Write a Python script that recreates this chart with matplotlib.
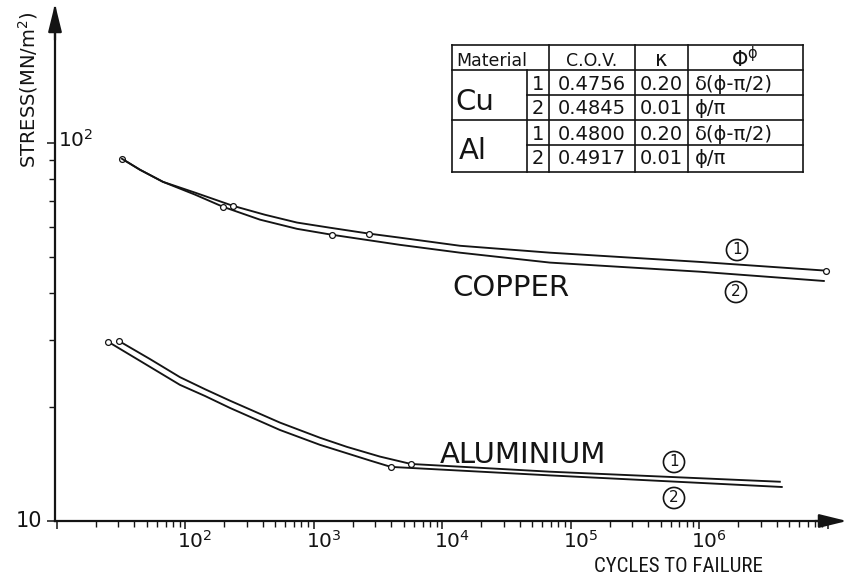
import matplotlib
matplotlib.use("Agg")
import matplotlib.pyplot as plt
from matplotlib import font_manager
from matplotlib.lines import Line2D
from matplotlib.patches import FancyArrowPatch
from matplotlib.ticker import FixedLocator, NullFormatter, LogLocator

# ---- data: S-N curves (cycles to failure, stress in MN/m^2) ----
cu1_cycles = [32.0, 44.3, 66.8, 118.6, 234, 415, 738, 1332, 2680, 4670, 13700, 68700, 1.01e6, 9.64e6]
cu1_stress = [90.7, 84.8, 78.8, 73.8, 68.1, 64.5, 61.5, 59.6, 57.5, 56.1, 53.4, 51.2, 48.4, 45.9]
cu1_marks = [0, 4, 8, 13]

cu2_cycles = [32.0, 44.3, 66.8, 118.6, 196, 380, 738, 1380, 4670, 13700, 68700, 1.01e6, 9.31e6]
cu2_stress = [90.7, 84.8, 78.8, 72.9, 67.7, 62.6, 59.2, 57.1, 53.7, 51.2, 48.2, 45.6, 43.1]
cu2_marks = [4, 7]

al1_cycles = [30.4, 52.9, 90.6, 142, 222, 544, 1113, 1807, 3265, 5690, 68700, 4.23e6]
al1_stress = [29.9, 26.8, 24.0, 22.3, 20.8, 18.2, 16.6, 15.7, 14.8, 14.15, 13.5, 12.7]
al1_marks = [0, 9]

al2_cycles = [24.9, 44.3, 90.6, 142, 222, 544, 1113, 1807, 2729, 3972, 68700, 4.38e6]
al2_stress = [29.8, 26.5, 22.9, 21.4, 19.9, 17.4, 15.9, 15.1, 14.45, 13.9, 13.2, 12.3]
al2_marks = [0, 9]

x_decades = [2, 3, 4, 5, 6]

table_header = ["Material", "C.O.V.", "\u03ba", r"$\Phi^{\phi}$"]
table_rows = [
    ("Cu", "1", "0.4756", "0.20", "\u03b4(\u03d5-\u03c0/2)"),
    ("Cu", "2", "0.4845", "0.01", "\u03d5/\u03c0"),
    ("Al", "1", "0.4800", "0.20", "\u03b4(\u03d5-\u03c0/2)"),
    ("Al", "2", "0.4917", "0.01", "\u03d5/\u03c0"),
]


def pick_font(names):
    for n in names:
        try:
            font_manager.findfont(n, fallback_to_default=False)
            return n
        except Exception:
            continue
    return "DejaVu Sans"


NARROW = pick_font(["Liberation Sans Narrow", "DejaVu Sans Condensed", "Roboto Condensed", "DejaVu Sans"])
BASE = "DejaVu Sans"
plt.rcParams["font.family"] = [BASE]
plt.rcParams["mathtext.fontset"] = "dejavusans"
plt.rcParams["mathtext.default"] = "regular"

W, H = 847, 577
fig = plt.figure(figsize=(W / 100, H / 100), dpi=100)
fig.patch.set_facecolor("white")


def fx(px):
    return px / W


def fy(py):
    return 1 - py / H


INK = "#141414"

ax = fig.add_axes([fx(55), fy(521), fx(838) - fx(55), fy(8) - fy(521)])
ax.set_xscale("log")
ax.set_yscale("log")
ax.set_xlim(9.65, 1.2e7)
ax.set_ylim(10, 227)
for s in ("top", "right"):
    ax.spines[s].set_visible(False)
for s in ("left", "bottom"):
    ax.spines[s].set_linewidth(1.6)
    ax.spines[s].set_color(INK)
ax.patch.set_alpha(0)

ax.xaxis.set_major_locator(LogLocator(base=10, numticks=20))
ax.xaxis.set_minor_locator(LogLocator(base=10, subs=range(2, 10), numticks=40))
ax.xaxis.set_major_formatter(NullFormatter())
ax.xaxis.set_minor_formatter(NullFormatter())
ax.yaxis.set_major_locator(FixedLocator([10, 100]))
ax.yaxis.set_minor_locator(FixedLocator([20, 30, 40, 50, 60, 70, 80, 90]))
ax.yaxis.set_major_formatter(NullFormatter())
ax.yaxis.set_minor_formatter(NullFormatter())
ax.tick_params(which="major", direction="out", length=6, width=1.1, color=INK)
ax.tick_params(which="minor", direction="out", length=4, width=1.0, color=INK)

# axis arrows
arrow = dict(arrowstyle="-|>,head_length=1.3,head_width=0.32", lw=1.6, color=INK,
             mutation_scale=13, shrinkA=0, shrinkB=0)
fig.add_artist(FancyArrowPatch((fx(815), fy(521)), (fx(847), fy(521)),
                               transform=fig.transFigure, **arrow))
fig.add_artist(FancyArrowPatch((fx(55), fy(40)), (fx(55), fy(4)),
                               transform=fig.transFigure, **arrow))

# curves
line_kw = dict(color=INK, lw=1.35, marker="o", ms=4.2, mfc="white", mec=INK, mew=0.9,
               solid_joinstyle="round", clip_on=False)
ax.plot(cu1_cycles, cu1_stress, markevery=cu1_marks, **line_kw)
ax.plot(cu2_cycles, cu2_stress, markevery=cu2_marks, **line_kw)
ax.plot(al1_cycles, al1_stress, markevery=al1_marks, **line_kw)
ax.plot(al2_cycles, al2_stress, markevery=al2_marks, **line_kw)


def ftext(px, py, s, **kw):
    kw.setdefault("color", INK)
    return fig.text(fx(px), fy(py), s, **kw)


# tick labels
for d in x_decades:
    ax.annotate(r"$10^{%d}$" % d, xy=(10 ** d, 10), xycoords="data",
                xytext=(-8, -27), textcoords="offset pixels", ha="left", va="baseline",
                fontsize=14.5, color=INK, annotation_clip=False)
ax.annotate("10", xy=(10, 10), xycoords="data", xytext=(-15, 0), textcoords="offset pixels",
            ha="right", va="center", fontsize=15, color=INK, annotation_clip=False)
ax.annotate(r"$10^{2}$", xy=(10, 100), xycoords="data", xytext=(1, 3), textcoords="offset pixels",
            ha="left", va="center", fontsize=14.5, color=INK, annotation_clip=False)

# axis titles
ftext(28, 90, r"STRESS(MN/m$^2$)", rotation=90, ha="center", va="center", fontsize=14)
ftext(678, 572, "CYCLES TO FAILURE", ha="center", va="baseline", fontsize=15, family=NARROW)

# curve labels
ftext(511, 296, "COPPER", ha="center", va="baseline", fontsize=21)
ftext(523, 463, "ALUMINIUM", ha="center", va="baseline", fontsize=21)

circ = dict(boxstyle="circle,pad=0.2", fc="white", ec=INK, lw=1.2)
for (cx, cy, s) in [(737, 250, "1"), (736, 292, "2"), (674, 462, "1"), (674, 498, "2")]:
    ftext(cx, cy, s, ha="center", va="center", fontsize=11, bbox=circ)

# parameter table
TL, TR, TT, TB = 452, 803, 45, 172
c_num, c_cov, c_k, c_phi = 527, 549, 635, 688
r_head, r_1, r_mid, r_3 = 70, 95, 120, 145


def seg(x0, y0, x1, y1, lw=1.2):
    fig.add_artist(Line2D([fx(x0), fx(x1)], [fy(y0), fy(y1)], transform=fig.transFigure,
                          color=INK, lw=lw, solid_capstyle="projecting"))


seg(TL, TT, TR, TT)
seg(TL, TB, TR, TB)
seg(TL, TT, TL, TB)
seg(TR, TT, TR, TB)
seg(TL, r_head, TR, r_head)
seg(TL, r_mid, TR, r_mid)
seg(c_num, r_1, TR, r_1)
seg(c_num, r_3, TR, r_3)
seg(c_num, r_head, c_num, TB)
for cx in (c_cov, c_k, c_phi):
    seg(cx, TT, cx, TB)

tfs = 14
ftext(492, 66, table_header[0], ha="center", va="baseline", fontsize=12.5)
ftext(592, 66, table_header[1], ha="center", va="baseline", fontsize=12.5)
ftext(661, 66, table_header[2], ha="center", va="baseline", fontsize=15)
ftext(745, 67, table_header[3], ha="center", va="baseline", fontsize=15)

row_base = [90, 114, 140, 164]
for i, (mat, num, cov, kap, phi) in enumerate(table_rows):
    yb = row_base[i]
    ftext(538, yb, num, ha="center", va="baseline", fontsize=tfs)
    ftext(592, yb, cov, ha="center", va="baseline", fontsize=tfs)
    ftext(661, yb, kap, ha="center", va="baseline", fontsize=tfs)
    ftext(695, yb, phi, ha="left", va="baseline", fontsize=tfs)
ftext(475, 110, "Cu", ha="center", va="baseline", fontsize=21)
ftext(473, 159, "Al", ha="center", va="baseline", fontsize=21)

fig.savefig("out.png", dpi=100, facecolor="white")
